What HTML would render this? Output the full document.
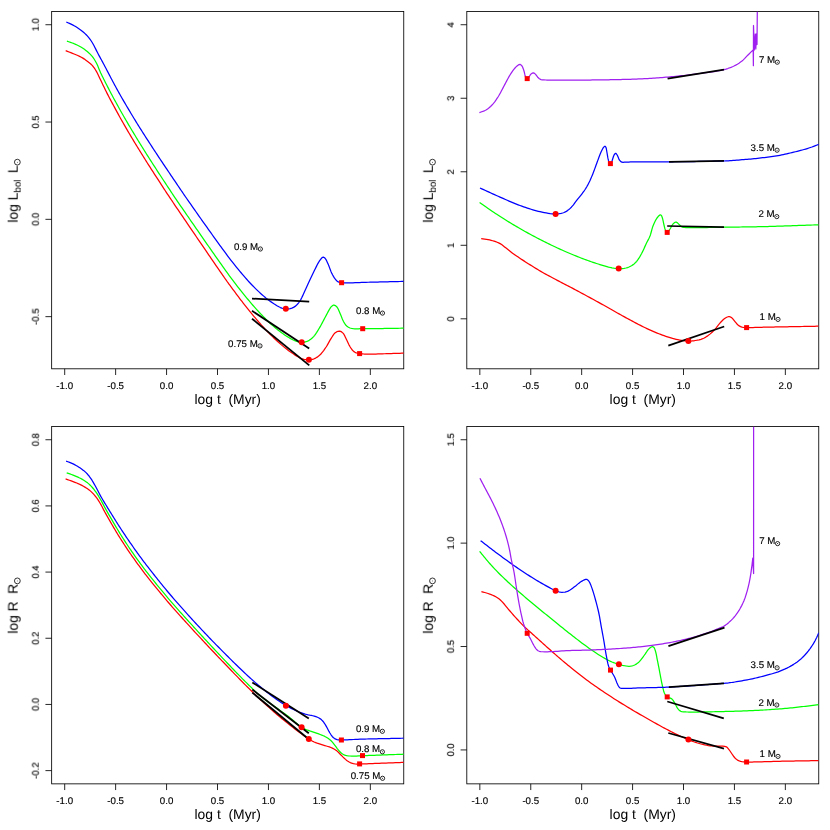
<!DOCTYPE html>
<html><head><meta charset="utf-8"><title>Stellar evolution tracks</title>
<style>html,body{margin:0;padding:0;background:#fff;}body{width:830px;height:830px;overflow:hidden;font-family:"Liberation Sans", sans-serif;}svg{display:block;opacity:0.999;}</style>
</head><body>
<svg width="830" height="830" viewBox="0 0 830 830" font-family='"Liberation Sans", sans-serif' fill="#000" text-rendering="geometricPrecision">
<defs><filter id="gray" x="-5%" y="-20%" width="110%" height="140%" color-interpolation-filters="sRGB"><feColorMatrix type="saturate" values="0"/></filter></defs>
<rect x="51.65" y="11.50" width="352.10" height="357.30" fill="none" stroke="#000" stroke-width="0.85"/>
<line x1="64.69" y1="368.80" x2="64.69" y2="375.00" stroke="#000" stroke-width="0.85"/>
<text filter="url(#gray)" x="64.69" y="388.95" font-size="9.7" text-anchor="middle" stroke="#000" stroke-width="0.15">-1.0</text>
<line x1="115.63" y1="368.80" x2="115.63" y2="375.00" stroke="#000" stroke-width="0.85"/>
<text filter="url(#gray)" x="115.63" y="388.95" font-size="9.7" text-anchor="middle" stroke="#000" stroke-width="0.15">-0.5</text>
<line x1="166.57" y1="368.80" x2="166.57" y2="375.00" stroke="#000" stroke-width="0.85"/>
<text filter="url(#gray)" x="166.57" y="388.95" font-size="9.7" text-anchor="middle" stroke="#000" stroke-width="0.15">0.0</text>
<line x1="217.51" y1="368.80" x2="217.51" y2="375.00" stroke="#000" stroke-width="0.85"/>
<text filter="url(#gray)" x="217.51" y="388.95" font-size="9.7" text-anchor="middle" stroke="#000" stroke-width="0.15">0.5</text>
<line x1="268.45" y1="368.80" x2="268.45" y2="375.00" stroke="#000" stroke-width="0.85"/>
<text filter="url(#gray)" x="268.45" y="388.95" font-size="9.7" text-anchor="middle" stroke="#000" stroke-width="0.15">1.0</text>
<line x1="319.39" y1="368.80" x2="319.39" y2="375.00" stroke="#000" stroke-width="0.85"/>
<text filter="url(#gray)" x="319.39" y="388.95" font-size="9.7" text-anchor="middle" stroke="#000" stroke-width="0.15">1.5</text>
<line x1="370.33" y1="368.80" x2="370.33" y2="375.00" stroke="#000" stroke-width="0.85"/>
<text filter="url(#gray)" x="370.33" y="388.95" font-size="9.7" text-anchor="middle" stroke="#000" stroke-width="0.15">2.0</text>
<line x1="45.45" y1="24.73" x2="51.65" y2="24.73" stroke="#000" stroke-width="0.85"/>
<text filter="url(#gray)" transform="translate(38.75 24.73) rotate(-90)" font-size="9.5" text-anchor="middle" stroke="#000" stroke-width="0.12">1.0</text>
<line x1="45.45" y1="122.04" x2="51.65" y2="122.04" stroke="#000" stroke-width="0.85"/>
<text filter="url(#gray)" transform="translate(38.75 122.04) rotate(-90)" font-size="9.5" text-anchor="middle" stroke="#000" stroke-width="0.12">0.5</text>
<line x1="45.45" y1="219.34" x2="51.65" y2="219.34" stroke="#000" stroke-width="0.85"/>
<text filter="url(#gray)" transform="translate(38.75 219.34) rotate(-90)" font-size="9.5" text-anchor="middle" stroke="#000" stroke-width="0.12">0.0</text>
<line x1="45.45" y1="316.65" x2="51.65" y2="316.65" stroke="#000" stroke-width="0.85"/>
<text filter="url(#gray)" transform="translate(38.75 316.65) rotate(-90)" font-size="9.5" text-anchor="middle" stroke="#000" stroke-width="0.12">-0.5</text>
<text filter="url(#gray)" x="227.70" y="403.70" font-size="13.9" text-anchor="middle" xml:space="preserve">log t  (Myr)</text>
<g transform="translate(17.65 190.15) rotate(-90)"><text filter="url(#gray)" x="-32.60" y="0" font-size="13.9" xml:space="preserve">log L</text><text filter="url(#gray)" x="-2.46" y="2.9" font-size="9.7">bol</text><text filter="url(#gray)" x="17.07" y="0" font-size="13.9">L</text><circle cx="28.00" cy="-0.30" r="2.90" fill="none" stroke="#000" stroke-width="0.80"/><circle cx="28.00" cy="-0.30" r="0.48" fill="#000"/></g>
<clipPath id="c1"><rect x="51.65" y="11.50" width="352.10" height="357.30"/></clipPath>
<g clip-path="url(#c1)">
<path d="M65.70 50.70L67.39 51.36L69.09 52.01L70.79 52.67L72.47 53.33L74.10 54.00L75.97 54.77L77.80 55.53L79.58 56.33L81.30 57.20L82.88 58.12L84.41 59.11L85.88 60.15L87.30 61.20L88.60 62.19L89.86 63.19L91.06 64.24L92.20 65.40L93.34 66.76L94.40 68.21L95.41 69.76L96.40 71.40L97.28 72.99L98.11 74.67L98.93 76.41L99.75 78.19L100.60 79.98L101.38 81.60L102.17 83.25L102.96 84.92L103.77 86.60L104.58 88.28L105.40 89.94L106.20 91.55L106.98 93.10L107.77 94.64L108.59 96.25L109.49 97.98L110.50 99.88L111.21 101.22L111.98 102.65L112.80 104.17L113.66 105.77L114.55 107.42L115.48 109.13L116.43 110.86L117.39 112.63L118.37 114.41L119.35 116.18L120.33 117.95L121.30 119.69L122.26 121.39L123.19 123.05L124.10 124.64L125.11 126.41L126.12 128.15L127.12 129.87L128.12 131.58L129.11 133.27L130.11 134.94L131.10 136.61L132.09 138.26L133.09 139.92L134.09 141.57L135.09 143.23L136.10 144.89L137.10 146.53L138.10 148.16L139.10 149.79L140.11 151.42L141.12 153.04L142.13 154.66L143.14 156.28L144.15 157.89L145.16 159.50L146.17 161.10L147.19 162.71L148.20 164.31L149.20 165.88L150.21 167.46L151.22 169.05L152.24 170.63L153.25 172.21L154.27 173.79L155.28 175.35L156.28 176.90L157.28 178.44L158.27 179.96L159.24 181.46L160.20 182.94L161.28 184.61L162.28 186.15L163.23 187.61L164.16 189.05L165.13 190.52L166.15 192.08L167.28 193.79L168.55 195.71L170.00 197.88L170.69 198.90L171.44 200.02L172.24 201.22L173.11 202.50L174.02 203.85L174.98 205.28L175.99 206.78L177.05 208.33L178.14 209.95L179.28 211.63L180.45 213.36L181.65 215.13L182.89 216.95L184.15 218.81L185.44 220.71L186.75 222.64L188.08 224.60L189.43 226.59L190.80 228.59L192.17 230.62L193.56 232.65L194.95 234.70L196.35 236.75L197.75 238.80L199.15 240.85L200.54 242.90L201.93 244.93L203.31 246.95L204.68 248.95L206.03 250.94L207.37 252.89L208.68 254.82L209.98 256.71L211.25 258.56L212.49 260.38L213.70 262.14L214.88 263.86L216.02 265.53L217.13 267.14L218.19 268.69L219.21 270.17L220.19 271.59L221.11 272.93L221.99 274.19L222.81 275.38L223.57 276.48L224.27 277.50L224.91 278.42L225.49 279.24L226.00 279.97L227.26 281.75L228.14 282.96L228.95 284.06L230.00 285.48L230.85 286.63L231.78 287.90L232.80 289.27L233.87 290.72L235.00 292.24L236.16 293.79L237.34 295.37L238.53 296.95L239.71 298.51L240.87 300.03L242.00 301.49L243.20 303.03L244.40 304.56L245.60 306.09L246.80 307.61L248.01 309.13L249.22 310.64L250.44 312.14L251.66 313.62L252.88 315.10L254.10 316.56L255.29 317.96L256.47 319.36L257.66 320.74L258.86 322.12L260.05 323.48L261.25 324.84L262.45 326.18L263.66 327.51L264.88 328.82L266.10 330.12L267.42 331.51L268.75 332.88L270.08 334.25L271.42 335.60L272.76 336.93L274.11 338.24L275.47 339.53L276.83 340.80L278.20 342.04L279.67 343.34L281.15 344.63L282.64 345.89L284.13 347.13L285.63 348.34L287.14 349.51L288.66 350.65L290.20 351.74L291.70 352.78L293.25 353.83L294.82 354.87L296.40 355.87L297.95 356.80L299.47 357.63L300.93 358.33L302.30 358.87L304.07 359.35L305.74 359.61L307.34 359.71L308.90 359.70L310.68 359.60L312.39 359.33L314.10 358.80L315.62 358.08L317.16 357.15L318.66 356.05L320.10 354.80L321.39 353.47L322.63 351.95L323.83 350.33L324.99 348.66L326.10 347.00L327.15 345.33L328.14 343.60L329.09 341.86L330.04 340.18L331.00 338.60L332.02 336.96L333.03 335.36L334.07 333.93L335.20 332.80L336.56 331.90L338.00 331.28L339.40 331.10L340.66 331.41L341.87 332.12L343.00 333.10L344.01 334.45L344.90 336.14L345.74 338.00L346.60 339.80L347.31 341.25L348.01 342.75L348.71 344.25L349.43 345.68L350.20 347.00L351.32 348.74L352.50 350.31L353.90 351.60L355.05 352.31L356.27 352.84L357.73 353.24L359.60 353.60L360.69 353.75L361.92 353.87L363.29 353.97L364.79 354.03L366.41 354.08L368.14 354.10L369.96 354.10L371.87 354.09L373.85 354.06L375.90 354.02L378.00 353.96L380.15 353.90L382.34 353.83L384.55 353.75L386.77 353.67L388.99 353.60L391.21 353.52L393.41 353.44L395.59 353.38L397.72 353.31L399.81 353.26L401.84 353.23L403.80 353.20" fill="none" stroke="#ff0000" stroke-width="1.25" stroke-linejoin="round" stroke-linecap="butt"/>
<path d="M66.90 41.10L68.70 41.73L70.51 42.34L72.31 42.99L74.10 43.70L75.57 44.34L77.04 45.03L78.50 45.75L79.92 46.51L81.30 47.30L82.88 48.30L84.41 49.35L85.89 50.46L87.30 51.60L88.61 52.72L89.86 53.88L91.06 55.09L92.20 56.40L93.34 57.90L94.40 59.50L95.41 61.20L96.40 63.00L97.14 64.49L97.83 66.08L98.51 67.73L99.19 69.41L99.88 71.08L100.60 72.72L101.37 74.35L102.16 75.97L102.96 77.59L103.77 79.21L104.59 80.82L105.40 82.42L106.20 83.99L107.00 85.55L107.80 87.11L108.60 88.66L109.40 90.20L110.20 91.73L111.09 93.43L111.96 95.06L112.84 96.71L113.77 98.44L114.80 100.33L115.59 101.77L116.42 103.29L117.30 104.88L118.21 106.53L119.15 108.22L120.12 109.95L121.10 111.70L122.10 113.46L123.10 115.22L124.10 116.97L125.04 118.59L126.00 120.24L126.97 121.92L127.96 123.60L128.96 125.31L129.97 127.02L130.99 128.73L132.02 130.45L133.04 132.16L134.06 133.86L135.08 135.55L136.10 137.23L137.10 138.87L138.10 140.50L139.10 142.14L140.11 143.76L141.12 145.39L142.13 147.01L143.14 148.63L144.15 150.24L145.16 151.85L146.17 153.46L147.19 155.06L148.20 156.66L149.20 158.24L150.21 159.82L151.22 161.40L152.23 162.99L153.25 164.57L154.26 166.14L155.28 167.70L156.28 169.25L157.28 170.79L158.26 172.31L159.24 173.81L160.20 175.28L161.34 177.03L162.48 178.77L163.61 180.49L164.73 182.19L165.83 183.86L166.91 185.50L167.97 187.10L169.00 188.66L170.00 190.16L171.08 191.80L172.02 193.23L172.92 194.60L173.90 196.06L175.06 197.78L176.50 199.91L177.12 200.81L177.80 201.81L178.53 202.89L179.33 204.04L180.18 205.28L181.07 206.59L182.02 207.97L183.02 209.41L184.05 210.92L185.13 212.48L186.24 214.10L187.39 215.77L188.58 217.48L189.79 219.24L191.03 221.04L192.30 222.87L193.59 224.73L194.90 226.63L196.23 228.54L197.57 230.48L198.92 232.43L200.29 234.40L201.66 236.37L203.04 238.35L204.41 240.33L205.79 242.31L207.17 244.28L208.53 246.24L209.89 248.19L211.24 250.12L212.58 252.03L213.90 253.91L215.20 255.77L216.48 257.59L217.73 259.37L218.96 261.12L220.16 262.82L221.33 264.47L222.47 266.07L223.56 267.62L224.62 269.10L225.64 270.53L226.61 271.88L227.53 273.17L228.41 274.38L229.23 275.51L230.00 276.56L231.52 278.62L232.90 280.47L234.17 282.16L235.35 283.71L236.47 285.16L237.55 286.54L238.62 287.90L239.70 289.25L240.82 290.65L242.00 292.12L243.19 293.60L244.39 295.09L245.59 296.56L246.80 298.03L248.01 299.49L249.22 300.94L250.43 302.38L251.65 303.81L252.87 305.22L254.10 306.61L255.42 308.09L256.73 309.56L258.05 311.02L259.38 312.46L260.71 313.89L262.04 315.29L263.39 316.68L264.74 318.05L266.10 319.40L267.42 320.67L268.74 321.94L270.07 323.19L271.41 324.43L272.75 325.64L274.10 326.83L275.46 327.99L276.83 329.11L278.20 330.21L279.69 331.35L281.22 332.48L282.77 333.59L284.32 334.66L285.86 335.68L287.36 336.65L288.82 337.54L290.20 338.34L291.78 339.21L293.30 340.01L294.77 340.70L296.17 341.28L297.50 341.73L298.94 342.09L300.28 342.27L301.70 342.30L303.12 342.23L304.62 342.05L306.14 341.72L307.60 341.20L309.17 340.36L310.70 339.29L312.18 338.02L313.60 336.60L314.68 335.33L315.71 333.93L316.71 332.41L317.68 330.83L318.64 329.22L319.60 327.60L320.49 326.08L321.37 324.49L322.23 322.87L323.09 321.24L323.94 319.62L324.78 318.03L325.60 316.50L326.46 314.90L327.32 313.25L328.17 311.64L329.00 310.12L329.78 308.79L330.50 307.70L331.53 306.43L332.50 305.60L333.23 305.21L334.00 305.10L335.33 305.59L336.70 306.70L337.65 308.05L338.53 309.83L339.37 311.79L340.20 313.70L340.87 315.26L341.50 316.89L342.13 318.52L342.78 320.08L343.50 321.50L344.56 323.31L345.69 324.95L347.00 326.30L348.41 327.26L349.98 327.98L351.80 328.50L353.26 328.74L354.83 328.84L356.52 328.84L358.37 328.79L360.42 328.73L362.70 328.70L364.09 328.70L365.59 328.70L367.19 328.69L368.89 328.68L370.67 328.66L372.52 328.64L374.45 328.62L376.44 328.60L378.47 328.57L380.55 328.54L382.67 328.51L384.80 328.48L386.96 328.44L389.13 328.41L391.29 328.38L393.45 328.34L395.58 328.31L397.70 328.28L399.78 328.25L401.81 328.23L403.80 328.20" fill="none" stroke="#00ff00" stroke-width="1.25" stroke-linejoin="round" stroke-linecap="butt"/>
<path d="M66.30 22.00L67.87 22.72L69.45 23.43L71.02 24.14L72.58 24.89L74.10 25.70L75.60 26.58L77.07 27.50L78.52 28.47L79.93 29.47L81.30 30.50L82.58 31.51L83.82 32.55L85.03 33.62L86.19 34.74L87.30 35.90L88.36 37.11L89.35 38.35L90.30 39.64L91.25 41.02L92.20 42.50L93.07 43.96L93.92 45.53L94.78 47.19L95.63 48.90L96.48 50.63L97.34 52.34L98.20 54.00L99.05 55.59L99.91 57.17L100.77 58.74L101.63 60.31L102.49 61.88L103.35 63.46L104.20 65.05L105.06 66.68L105.92 68.32L106.77 69.97L107.63 71.61L108.48 73.26L109.34 74.91L110.20 76.55L111.06 78.18L111.92 79.81L112.79 81.43L113.65 83.05L114.52 84.68L115.41 86.31L116.30 87.95L117.21 89.61L118.11 91.24L119.01 92.86L119.94 94.51L120.90 96.21L121.91 97.99L123.00 99.88L123.86 101.36L124.77 102.91L125.72 104.53L126.70 106.20L127.72 107.92L128.76 109.66L129.81 111.43L130.87 113.20L131.94 114.98L133.00 116.73L134.05 118.47L135.09 120.17L136.10 121.82L137.12 123.46L138.13 125.09L139.14 126.71L140.15 128.32L141.15 129.92L142.16 131.50L143.16 133.08L144.17 134.66L145.17 136.23L146.18 137.80L147.19 139.37L148.20 140.94L149.28 142.62L150.36 144.28L151.44 145.94L152.51 147.58L153.58 149.22L154.66 150.87L155.75 152.52L156.84 154.18L157.95 155.85L159.07 157.54L160.20 159.24L161.25 160.83L162.32 162.43L163.39 164.04L164.48 165.67L165.58 167.31L166.68 168.95L167.79 170.60L168.90 172.25L170.01 173.90L171.11 175.54L172.22 177.18L173.31 178.80L174.40 180.41L175.43 181.94L176.42 183.41L177.39 184.85L178.34 186.26L179.29 187.66L180.24 189.07L181.20 190.50L182.20 191.97L183.24 193.49L184.32 195.07L185.47 196.74L186.69 198.50L188.00 200.37L188.85 201.59L189.75 202.87L190.69 204.22L191.67 205.62L192.69 207.08L193.75 208.59L194.85 210.15L195.97 211.75L197.12 213.39L198.30 215.06L199.50 216.77L200.73 218.51L201.97 220.27L203.23 222.05L204.50 223.84L205.78 225.65L207.07 227.47L208.36 229.30L209.66 231.12L210.96 232.94L212.26 234.76L213.55 236.56L214.83 238.35L216.11 240.12L217.37 241.88L218.61 243.60L219.84 245.30L221.05 246.96L222.24 248.58L223.40 250.17L224.53 251.71L225.64 253.20L226.70 254.63L227.74 256.02L228.73 257.34L229.69 258.59L230.60 259.78L232.06 261.66L233.47 263.46L234.83 265.18L236.16 266.82L237.45 268.40L238.69 269.91L239.90 271.37L241.08 272.76L242.22 274.10L243.34 275.40L244.42 276.65L245.47 277.86L246.50 279.03L247.88 280.59L249.13 281.99L250.32 283.28L251.50 284.53L252.74 285.80L254.10 287.17L255.30 288.35L256.57 289.58L257.90 290.85L259.26 292.14L260.64 293.42L262.04 294.68L263.42 295.90L264.78 297.06L266.10 298.15L267.77 299.45L269.45 300.70L271.11 301.88L272.74 302.98L274.31 304.01L275.80 304.94L277.40 305.92L278.93 306.81L280.39 307.56L281.80 308.13L283.17 308.50L284.47 308.70L285.80 308.80L287.25 308.86L288.72 308.83L290.20 308.60L291.86 308.10L293.52 307.38L295.10 306.40L296.39 305.32L297.61 304.03L298.78 302.58L299.90 301.00L300.77 299.59L301.59 298.04L302.38 296.39L303.15 294.69L303.92 292.98L304.70 291.30L305.51 289.58L306.31 287.83L307.10 286.08L307.89 284.32L308.69 282.55L309.50 280.80L310.32 279.03L311.16 277.26L311.99 275.48L312.83 273.71L313.67 271.98L314.50 270.30L315.41 268.46L316.32 266.62L317.23 264.83L318.12 263.17L319.00 261.70L320.04 260.13L321.06 258.76L322.00 257.80L322.65 257.35L323.30 257.20L324.19 257.53L325.10 258.30L325.87 259.37L326.62 260.80L327.36 262.43L328.10 264.10L328.81 265.80L329.51 267.64L330.22 269.54L330.94 271.39L331.70 273.10L332.56 274.80L333.44 276.42L334.36 277.91L335.30 279.20L336.26 280.29L337.24 281.20L338.30 281.90L339.71 282.43L341.60 282.70L342.68 282.79L343.98 282.85L345.47 282.87L347.14 282.87L348.95 282.85L350.89 282.81L352.94 282.76L355.06 282.69L357.24 282.62L359.45 282.54L361.67 282.46L363.88 282.38L366.05 282.31L368.17 282.25L370.20 282.20L372.11 282.16L374.03 282.12L375.97 282.07L377.92 282.03L379.88 281.98L381.86 281.94L383.84 281.89L385.83 281.84L387.83 281.79L389.83 281.74L391.83 281.69L393.84 281.64L395.84 281.59L397.84 281.54L399.83 281.50L401.82 281.45L403.80 281.40" fill="none" stroke="#0000ff" stroke-width="1.25" stroke-linejoin="round" stroke-linecap="butt"/>
</g>
<line x1="252.00" y1="298.60" x2="309.20" y2="301.60" stroke="#000" stroke-width="1.75"/>
<line x1="252.00" y1="310.80" x2="309.20" y2="348.60" stroke="#000" stroke-width="1.75"/>
<line x1="252.00" y1="318.70" x2="309.30" y2="365.40" stroke="#000" stroke-width="1.75"/>
<circle cx="285.80" cy="308.80" r="3.0" fill="#f00"/>
<circle cx="301.70" cy="342.30" r="3.0" fill="#f00"/>
<circle cx="308.90" cy="359.70" r="3.0" fill="#f00"/>
<rect x="339.10" y="280.20" width="5.0" height="5.0" fill="#f00"/>
<rect x="360.20" y="326.20" width="5.0" height="5.0" fill="#f00"/>
<rect x="357.10" y="351.10" width="5.0" height="5.0" fill="#f00"/>
<text filter="url(#gray)" x="233.90" y="249.60" font-size="9.7" stroke="#000" stroke-width="0.15">0.9 M</text><circle cx="260.38" cy="249.00" r="2.10" fill="none" stroke="#000" stroke-width="0.85"/><circle cx="260.38" cy="249.00" r="0.51" fill="#000"/>
<text filter="url(#gray)" x="356.00" y="313.70" font-size="9.7" stroke="#000" stroke-width="0.15">0.8 M</text><circle cx="382.48" cy="313.10" r="2.10" fill="none" stroke="#000" stroke-width="0.85"/><circle cx="382.48" cy="313.10" r="0.51" fill="#000"/>
<text filter="url(#gray)" x="228.10" y="346.50" font-size="9.7" stroke="#000" stroke-width="0.15">0.75 M</text><circle cx="259.98" cy="345.90" r="2.10" fill="none" stroke="#000" stroke-width="0.85"/><circle cx="259.98" cy="345.90" r="0.51" fill="#000"/>
<rect x="466.80" y="11.50" width="351.95" height="357.30" fill="none" stroke="#000" stroke-width="0.85"/>
<line x1="479.84" y1="368.80" x2="479.84" y2="375.00" stroke="#000" stroke-width="0.85"/>
<text filter="url(#gray)" x="479.84" y="388.95" font-size="9.7" text-anchor="middle" stroke="#000" stroke-width="0.15">-1.0</text>
<line x1="530.75" y1="368.80" x2="530.75" y2="375.00" stroke="#000" stroke-width="0.85"/>
<text filter="url(#gray)" x="530.75" y="388.95" font-size="9.7" text-anchor="middle" stroke="#000" stroke-width="0.15">-0.5</text>
<line x1="581.67" y1="368.80" x2="581.67" y2="375.00" stroke="#000" stroke-width="0.85"/>
<text filter="url(#gray)" x="581.67" y="388.95" font-size="9.7" text-anchor="middle" stroke="#000" stroke-width="0.15">0.0</text>
<line x1="632.59" y1="368.80" x2="632.59" y2="375.00" stroke="#000" stroke-width="0.85"/>
<text filter="url(#gray)" x="632.59" y="388.95" font-size="9.7" text-anchor="middle" stroke="#000" stroke-width="0.15">0.5</text>
<line x1="683.51" y1="368.80" x2="683.51" y2="375.00" stroke="#000" stroke-width="0.85"/>
<text filter="url(#gray)" x="683.51" y="388.95" font-size="9.7" text-anchor="middle" stroke="#000" stroke-width="0.15">1.0</text>
<line x1="734.43" y1="368.80" x2="734.43" y2="375.00" stroke="#000" stroke-width="0.85"/>
<text filter="url(#gray)" x="734.43" y="388.95" font-size="9.7" text-anchor="middle" stroke="#000" stroke-width="0.15">1.5</text>
<line x1="785.35" y1="368.80" x2="785.35" y2="375.00" stroke="#000" stroke-width="0.85"/>
<text filter="url(#gray)" x="785.35" y="388.95" font-size="9.7" text-anchor="middle" stroke="#000" stroke-width="0.15">2.0</text>
<line x1="460.60" y1="24.73" x2="466.80" y2="24.73" stroke="#000" stroke-width="0.85"/>
<text filter="url(#gray)" transform="translate(453.90 24.73) rotate(-90)" font-size="9.5" text-anchor="middle" stroke="#000" stroke-width="0.12">4</text>
<line x1="460.60" y1="98.25" x2="466.80" y2="98.25" stroke="#000" stroke-width="0.85"/>
<text filter="url(#gray)" transform="translate(453.90 98.25) rotate(-90)" font-size="9.5" text-anchor="middle" stroke="#000" stroke-width="0.12">3</text>
<line x1="460.60" y1="171.77" x2="466.80" y2="171.77" stroke="#000" stroke-width="0.85"/>
<text filter="url(#gray)" transform="translate(453.90 171.77) rotate(-90)" font-size="9.5" text-anchor="middle" stroke="#000" stroke-width="0.12">2</text>
<line x1="460.60" y1="245.29" x2="466.80" y2="245.29" stroke="#000" stroke-width="0.85"/>
<text filter="url(#gray)" transform="translate(453.90 245.29) rotate(-90)" font-size="9.5" text-anchor="middle" stroke="#000" stroke-width="0.12">1</text>
<line x1="460.60" y1="318.81" x2="466.80" y2="318.81" stroke="#000" stroke-width="0.85"/>
<text filter="url(#gray)" transform="translate(453.90 318.81) rotate(-90)" font-size="9.5" text-anchor="middle" stroke="#000" stroke-width="0.12">0</text>
<text filter="url(#gray)" x="642.77" y="403.70" font-size="13.9" text-anchor="middle" xml:space="preserve">log t  (Myr)</text>
<g transform="translate(432.80 190.15) rotate(-90)"><text filter="url(#gray)" x="-32.60" y="0" font-size="13.9" xml:space="preserve">log L</text><text filter="url(#gray)" x="-2.46" y="2.9" font-size="9.7">bol</text><text filter="url(#gray)" x="17.07" y="0" font-size="13.9">L</text><circle cx="28.00" cy="-0.30" r="2.90" fill="none" stroke="#000" stroke-width="0.80"/><circle cx="28.00" cy="-0.30" r="0.48" fill="#000"/></g>
<clipPath id="c2"><rect x="466.80" y="11.50" width="351.95" height="357.30"/></clipPath>
<g clip-path="url(#c2)">
<path d="M481.20 238.70L482.94 238.91L484.69 239.10L486.41 239.32L488.10 239.60L489.64 239.93L491.14 240.31L492.62 240.73L494.10 241.20L495.62 241.71L497.13 242.24L498.63 242.86L500.10 243.60L501.63 244.58L503.13 245.71L504.61 246.91L506.10 248.10L507.62 249.30L509.15 250.52L510.67 251.73L512.20 252.90L513.64 253.96L515.06 254.96L516.55 255.98L518.20 257.10L519.50 257.97L520.90 258.90L522.38 259.88L523.93 260.89L525.50 261.91L527.09 262.93L528.66 263.93L530.20 264.90L531.70 265.84L533.21 266.78L534.72 267.71L536.23 268.63L537.75 269.54L539.26 270.45L540.78 271.34L542.30 272.22L543.98 273.18L545.63 274.09L547.27 274.99L548.94 275.89L550.65 276.80L552.42 277.75L554.30 278.75L555.77 279.53L557.29 280.33L558.85 281.14L560.46 281.98L562.10 282.83L563.77 283.69L565.47 284.57L567.18 285.46L568.90 286.36L570.63 287.26L572.37 288.17L574.10 289.09L575.75 289.97L577.42 290.86L579.12 291.77L580.82 292.69L582.54 293.61L584.27 294.55L586.01 295.49L587.76 296.44L589.51 297.39L591.26 298.34L593.00 299.30L594.74 300.25L596.48 301.21L598.20 302.16L599.93 303.12L601.68 304.09L603.44 305.08L605.20 306.07L606.96 307.07L608.72 308.07L610.48 309.07L612.23 310.06L613.96 311.05L615.68 312.02L617.38 312.97L619.05 313.91L620.69 314.82L622.30 315.71L624.02 316.66L625.72 317.59L627.40 318.51L629.07 319.41L630.71 320.30L632.32 321.17L633.91 322.02L635.48 322.85L637.02 323.65L638.52 324.43L640.00 325.18L641.83 326.10L643.58 326.97L645.28 327.80L646.95 328.60L648.62 329.37L650.29 330.13L652.00 330.89L653.72 331.63L655.44 332.36L657.16 333.08L658.89 333.77L660.63 334.45L662.36 335.09L664.10 335.71L665.80 336.30L667.51 336.87L669.22 337.42L670.93 337.94L672.64 338.43L674.37 338.88L676.10 339.29L677.87 339.67L679.69 340.02L681.53 340.34L683.35 340.62L685.12 340.85L686.82 341.01L688.40 341.10L690.28 341.09L692.02 340.98L693.69 340.77L695.40 340.50L697.25 340.18L699.12 339.80L700.95 339.32L702.70 338.70L704.28 337.96L705.79 337.10L707.25 336.14L708.70 335.10L709.95 334.12L711.19 333.05L712.40 331.93L713.58 330.77L714.70 329.60L715.96 328.12L717.14 326.58L718.30 325.05L719.50 323.60L720.70 322.28L721.93 320.98L723.14 319.79L724.30 318.80L725.85 317.71L727.30 317.00L728.26 316.73L729.20 316.70L730.38 316.97L731.60 317.60L732.81 318.77L734.03 320.32L735.20 321.80L736.12 322.94L737.00 324.03L738.00 325.00L739.23 325.88L740.58 326.64L742.00 327.20L743.38 327.48L744.83 327.56L746.60 327.60L747.99 327.62L749.53 327.62L751.21 327.59L753.03 327.54L754.99 327.47L757.07 327.40L759.27 327.33L761.58 327.26L764.00 327.20L765.45 327.17L766.96 327.14L768.55 327.11L770.20 327.08L771.92 327.04L773.69 327.01L775.51 326.98L777.38 326.94L779.30 326.91L781.26 326.87L783.25 326.83L785.27 326.80L787.32 326.76L789.40 326.72L791.49 326.69L793.60 326.65L795.73 326.61L797.85 326.57L799.98 326.53L802.11 326.50L804.24 326.46L806.35 326.42L808.45 326.38L810.53 326.35L812.59 326.31L814.63 326.27L816.63 326.24L818.60 326.20" fill="none" stroke="#ff0000" stroke-width="1.25" stroke-linejoin="round" stroke-linecap="butt"/>
<path d="M479.60 202.48L481.03 203.50L482.49 204.53L483.94 205.57L485.37 206.59L486.77 207.57L488.10 208.50L489.62 209.55L491.03 210.51L492.47 211.48L494.10 212.56L495.40 213.42L496.80 214.34L498.29 215.30L499.83 216.30L501.40 217.31L502.99 218.32L504.56 219.31L506.10 220.27L507.60 221.20L509.11 222.12L510.62 223.04L512.14 223.95L513.65 224.86L515.17 225.76L516.68 226.65L518.20 227.53L519.91 228.52L521.62 229.50L523.33 230.47L525.04 231.43L526.76 232.38L528.48 233.33L530.20 234.27L531.92 235.20L533.65 236.12L535.37 237.04L537.10 237.95L538.84 238.85L540.57 239.74L542.30 240.62L544.04 241.50L545.80 242.38L547.58 243.25L549.34 244.11L551.06 244.95L552.72 245.75L554.30 246.50L555.92 247.27L557.41 247.97L558.87 248.64L560.37 249.32L562.00 250.05L563.58 250.75L565.25 251.48L566.99 252.24L568.77 253.00L570.56 253.77L572.35 254.51L574.10 255.24L575.81 255.93L577.52 256.62L579.23 257.29L580.95 257.96L582.66 258.61L584.38 259.26L586.10 259.89L587.82 260.51L589.55 261.13L591.27 261.73L593.00 262.32L594.74 262.90L596.47 263.47L598.20 264.02L599.93 264.56L601.68 265.10L603.44 265.64L605.19 266.15L606.91 266.63L608.59 267.06L610.20 267.43L612.00 267.79L613.73 268.09L615.41 268.34L617.06 268.51L618.70 268.60L620.56 268.61L622.39 268.53L624.18 268.33L625.90 268.00L627.48 267.55L629.02 266.98L630.50 266.29L631.90 265.50L633.20 264.62L634.41 263.64L635.57 262.54L636.70 261.30L637.75 259.95L638.75 258.46L639.72 256.86L640.67 255.19L641.60 253.50L642.44 251.88L643.27 250.16L644.08 248.39L644.87 246.63L645.64 244.92L646.40 243.30L647.16 241.78L647.91 240.36L648.65 238.96L649.34 237.53L650.00 236.00L650.55 234.42L651.03 232.75L651.49 231.03L651.94 229.30L652.43 227.61L653.00 226.00L653.73 224.25L654.52 222.50L655.35 220.82L656.18 219.29L657.00 218.00L658.32 216.29L659.60 215.20L660.33 214.92L661.00 215.00L661.77 216.16L662.40 218.00L662.84 219.56L663.23 221.38L663.61 223.26L664.00 225.00L664.42 226.81L664.85 228.52L665.40 230.00L666.23 231.57L667.20 232.40L668.09 231.81L669.05 230.45L670.00 229.00L670.98 227.32L671.94 225.51L673.00 224.00L674.47 222.63L676.00 222.00L677.51 222.91L679.00 224.40L680.44 225.81L682.00 227.00L683.11 227.36L684.32 227.50L686.00 227.60L687.02 227.66L688.22 227.70L689.59 227.72L691.10 227.74L692.75 227.74L694.52 227.73L696.39 227.72L698.36 227.69L700.40 227.66L702.51 227.62L704.67 227.58L706.87 227.54L709.08 227.49L711.31 227.44L713.52 227.39L715.72 227.35L717.88 227.30L719.99 227.26L722.03 227.23L724.00 227.20L725.88 227.18L727.74 227.15L729.61 227.13L731.46 227.11L733.32 227.09L735.17 227.07L737.03 227.05L738.88 227.02L740.75 227.00L742.61 226.98L744.49 226.95L746.37 226.93L748.26 226.90L750.17 226.87L752.09 226.84L754.03 226.81L755.98 226.77L757.95 226.73L759.94 226.69L761.96 226.65L764.00 226.60L765.81 226.56L767.64 226.51L769.49 226.46L771.36 226.41L773.24 226.35L775.14 226.29L777.05 226.23L778.98 226.17L780.92 226.11L782.88 226.04L784.84 225.98L786.81 225.91L788.79 225.84L790.77 225.77L792.76 225.70L794.76 225.63L796.75 225.56L798.75 225.49L800.75 225.42L802.75 225.35L804.75 225.28L806.75 225.21L808.74 225.14L810.73 225.07L812.71 225.00L814.68 224.93L816.64 224.87L818.60 224.80" fill="none" stroke="#00ff00" stroke-width="1.25" stroke-linejoin="round" stroke-linecap="butt"/>
<path d="M480.00 187.98L481.82 188.81L483.63 189.64L485.45 190.48L487.27 191.31L489.08 192.15L490.90 192.98L492.72 193.81L494.54 194.64L496.36 195.46L498.18 196.27L500.00 197.07L501.81 197.87L503.62 198.67L505.44 199.47L507.25 200.27L509.06 201.06L510.88 201.84L512.70 202.61L514.52 203.36L516.34 204.10L518.17 204.81L520.00 205.49L521.81 206.14L523.64 206.79L525.49 207.43L527.34 208.05L529.19 208.66L531.03 209.24L532.87 209.80L534.69 210.32L536.49 210.82L538.26 211.27L540.00 211.68L542.07 212.14L544.15 212.58L546.22 212.98L548.26 213.33L550.24 213.63L552.16 213.84L553.98 213.97L555.70 214.00L557.59 213.91L559.38 213.71L561.07 213.40L562.64 213.00L564.10 212.50L565.87 211.65L567.44 210.62L568.90 209.50L570.18 208.38L571.35 207.19L572.50 205.90L573.41 204.78L574.28 203.59L575.16 202.35L576.10 201.10L577.27 199.65L578.51 198.17L579.77 196.65L581.00 195.10L581.99 193.80L582.99 192.47L583.97 191.12L584.91 189.76L585.80 188.40L586.78 186.79L587.68 185.17L588.54 183.52L589.40 181.80L590.15 180.21L590.88 178.56L591.59 176.87L592.30 175.14L593.00 173.40L593.61 171.83L594.22 170.22L594.81 168.60L595.41 166.96L596.00 165.32L596.60 163.70L597.20 162.06L597.81 160.39L598.42 158.72L599.03 157.09L599.62 155.53L600.20 154.10L601.05 152.08L601.88 150.24L602.70 148.70L603.52 147.45L604.30 146.60L604.71 146.34L605.10 146.30L605.58 146.73L606.00 147.50L606.32 148.60L606.55 149.98L606.80 151.50L607.10 153.25L607.41 155.21L607.74 157.17L608.10 158.90L608.45 160.41L608.82 161.77L609.30 162.80L609.89 163.46L610.50 163.70L611.08 163.08L611.60 162.00L612.27 160.24L612.90 158.30L613.45 156.49L614.10 154.90L614.87 153.83L615.70 153.30L616.51 153.99L617.30 155.30L618.00 156.82L618.70 158.59L619.50 160.10L620.59 161.37L621.90 162.20L623.07 162.36L624.40 162.23L626.00 162.10L627.32 162.07L628.80 162.03L630.42 161.99L632.16 161.94L634.01 161.90L635.95 161.86L637.95 161.83L640.00 161.80L641.61 161.79L643.27 161.78L644.98 161.78L646.74 161.78L648.55 161.78L650.41 161.79L652.31 161.79L654.25 161.80L656.24 161.81L658.26 161.82L660.33 161.82L662.44 161.82L664.59 161.82L666.78 161.81L669.00 161.80L670.71 161.79L672.52 161.77L674.43 161.75L676.43 161.74L678.50 161.72L680.63 161.69L682.82 161.67L685.06 161.64L687.33 161.62L689.63 161.59L691.94 161.56L694.26 161.53L696.57 161.50L698.87 161.47L701.15 161.44L703.39 161.40L705.59 161.37L707.73 161.34L709.81 161.30L711.81 161.27L713.74 161.23L715.56 161.20L717.29 161.16L718.90 161.13L720.38 161.10L721.74 161.06L722.94 161.03L724.00 161.00L725.88 160.93L727.25 160.87L728.50 160.80L730.00 160.70L731.50 160.59L733.13 160.46L734.85 160.32L736.64 160.16L738.45 160.01L740.25 159.85L742.00 159.70L743.73 159.56L745.46 159.43L747.19 159.29L748.92 159.16L750.65 159.02L752.37 158.86L754.10 158.70L755.82 158.52L757.53 158.34L759.25 158.14L760.96 157.94L762.67 157.73L764.38 157.52L766.10 157.30L767.83 157.08L769.56 156.86L771.29 156.64L773.02 156.41L774.75 156.16L776.48 155.89L778.20 155.60L779.92 155.28L781.64 154.93L783.35 154.57L785.06 154.19L786.77 153.80L788.49 153.40L790.20 153.00L791.94 152.59L793.70 152.18L795.46 151.76L797.22 151.33L798.95 150.89L800.65 150.45L802.30 150.00L803.99 149.52L805.65 149.03L807.28 148.53L808.87 148.02L810.41 147.51L811.90 147.00L813.71 146.33L815.43 145.66L817.10 144.98L818.80 144.30" fill="none" stroke="#0000ff" stroke-width="1.25" stroke-linejoin="round" stroke-linecap="butt"/>
<path d="M479.40 112.60L481.07 112.00L482.75 111.43L484.41 110.80L486.00 110.00L487.58 108.96L489.10 107.77L490.57 106.44L492.00 105.00L493.06 103.83L494.08 102.58L495.09 101.26L496.08 99.89L497.04 98.46L498.00 97.00L498.90 95.54L499.77 94.01L500.62 92.44L501.47 90.83L502.31 89.21L503.15 87.59L504.00 86.00L504.86 84.40L505.71 82.78L506.57 81.14L507.43 79.52L508.28 77.94L509.14 76.42L510.00 75.00L511.01 73.42L512.04 71.89L513.05 70.46L514.05 69.15L515.00 68.00L516.04 66.87L517.03 65.93L518.00 65.20L519.02 64.60L520.00 64.40L521.04 64.94L522.00 66.00L522.76 67.41L523.41 69.17L524.00 71.00L524.41 72.55L524.75 74.22L525.12 75.78L525.60 77.00L526.36 78.09L527.20 78.60L528.10 78.05L529.00 77.00L529.96 75.46L531.00 74.00L532.17 73.15L533.40 72.80L534.53 73.37L535.60 74.40L536.77 75.98L538.00 77.60L539.39 78.76L541.00 79.60L542.33 79.90L543.83 79.96L546.00 80.00L546.85 80.03L547.82 80.05L548.91 80.07L550.12 80.09L551.43 80.11L552.86 80.12L554.38 80.14L555.99 80.15L557.70 80.15L559.48 80.16L561.34 80.16L563.28 80.16L565.28 80.16L567.34 80.16L569.46 80.15L571.62 80.15L573.83 80.14L576.08 80.13L578.37 80.11L580.68 80.10L583.01 80.08L585.36 80.06L587.72 80.04L590.09 80.02L592.46 79.99L594.82 79.97L597.18 79.94L599.52 79.91L601.83 79.88L604.12 79.85L606.38 79.82L608.60 79.78L610.78 79.74L612.91 79.70L614.99 79.67L617.00 79.62L618.95 79.58L620.83 79.54L622.64 79.49L624.36 79.45L626.00 79.40L628.22 79.33L630.37 79.26L632.47 79.19L634.51 79.12L636.51 79.04L638.47 78.96L640.38 78.88L642.26 78.79L644.12 78.70L645.95 78.61L647.76 78.51L649.55 78.41L651.34 78.30L653.12 78.19L654.91 78.07L656.70 77.95L658.49 77.82L660.31 77.69L662.14 77.55L664.00 77.40L665.93 77.24L667.87 77.08L669.82 76.90L671.78 76.72L673.74 76.54L675.70 76.34L677.66 76.15L679.61 75.94L681.56 75.73L683.49 75.52L685.42 75.31L687.32 75.09L689.21 74.87L691.08 74.64L692.92 74.42L694.74 74.19L696.53 73.96L698.28 73.73L700.00 73.50L702.04 73.23L704.07 72.95L706.10 72.68L708.10 72.41L710.08 72.13L712.02 71.85L713.92 71.56L715.77 71.26L717.57 70.96L719.29 70.64L720.95 70.31L722.52 69.96L724.00 69.60L725.95 69.07L727.74 68.53L729.39 67.96L730.95 67.36L732.48 66.71L734.00 66.00L735.72 65.12L737.38 64.18L738.99 63.17L740.53 62.11L742.00 61.00L743.31 59.87L744.53 58.66L745.70 57.42L746.85 56.19L748.00 55.00L749.32 53.69L750.62 52.42L751.91 51.16L753.20 49.90L753.20 49.90L753.40 65.70L753.50 25.50L754.30 50.00L755.30 34.00L755.80 49.00L756.50 34.00L757.00 44.50L757.30 11.40" fill="none" stroke="#a020f0" stroke-width="1.25" stroke-linejoin="round" stroke-linecap="butt"/>
</g>
<line x1="667.60" y1="78.60" x2="724.00" y2="69.60" stroke="#000" stroke-width="1.75"/>
<line x1="669.00" y1="161.80" x2="724.00" y2="160.80" stroke="#000" stroke-width="1.75"/>
<line x1="667.20" y1="226.00" x2="724.00" y2="227.20" stroke="#000" stroke-width="1.75"/>
<line x1="668.30" y1="345.60" x2="724.20" y2="326.50" stroke="#000" stroke-width="1.75"/>
<circle cx="555.60" cy="214.00" r="3.0" fill="#f00"/>
<circle cx="618.70" cy="268.60" r="3.0" fill="#f00"/>
<circle cx="688.40" cy="341.10" r="3.0" fill="#f00"/>
<rect x="524.70" y="76.10" width="5.0" height="5.0" fill="#f00"/>
<rect x="607.90" y="161.10" width="5.0" height="5.0" fill="#f00"/>
<rect x="664.70" y="229.90" width="5.0" height="5.0" fill="#f00"/>
<rect x="744.10" y="325.10" width="5.0" height="5.0" fill="#f00"/>
<text filter="url(#gray)" x="758.90" y="62.80" font-size="9.7" stroke="#000" stroke-width="0.15">7 M</text><circle cx="777.29" cy="62.20" r="2.10" fill="none" stroke="#000" stroke-width="0.85"/><circle cx="777.29" cy="62.20" r="0.51" fill="#000"/>
<text filter="url(#gray)" x="750.60" y="150.80" font-size="9.7" stroke="#000" stroke-width="0.15">3.5 M</text><circle cx="777.08" cy="150.20" r="2.10" fill="none" stroke="#000" stroke-width="0.85"/><circle cx="777.08" cy="150.20" r="0.51" fill="#000"/>
<text filter="url(#gray)" x="758.40" y="217.20" font-size="9.7" stroke="#000" stroke-width="0.15">2 M</text><circle cx="776.79" cy="216.60" r="2.10" fill="none" stroke="#000" stroke-width="0.85"/><circle cx="776.79" cy="216.60" r="0.51" fill="#000"/>
<text filter="url(#gray)" x="759.60" y="320.00" font-size="9.7" stroke="#000" stroke-width="0.15">1 M</text><circle cx="777.99" cy="319.40" r="2.10" fill="none" stroke="#000" stroke-width="0.85"/><circle cx="777.99" cy="319.40" r="0.51" fill="#000"/>
<rect x="51.65" y="426.50" width="352.10" height="357.35" fill="none" stroke="#000" stroke-width="0.85"/>
<line x1="64.69" y1="783.85" x2="64.69" y2="790.05" stroke="#000" stroke-width="0.85"/>
<text filter="url(#gray)" x="64.69" y="804.00" font-size="9.7" text-anchor="middle" stroke="#000" stroke-width="0.15">-1.0</text>
<line x1="115.63" y1="783.85" x2="115.63" y2="790.05" stroke="#000" stroke-width="0.85"/>
<text filter="url(#gray)" x="115.63" y="804.00" font-size="9.7" text-anchor="middle" stroke="#000" stroke-width="0.15">-0.5</text>
<line x1="166.57" y1="783.85" x2="166.57" y2="790.05" stroke="#000" stroke-width="0.85"/>
<text filter="url(#gray)" x="166.57" y="804.00" font-size="9.7" text-anchor="middle" stroke="#000" stroke-width="0.15">0.0</text>
<line x1="217.51" y1="783.85" x2="217.51" y2="790.05" stroke="#000" stroke-width="0.85"/>
<text filter="url(#gray)" x="217.51" y="804.00" font-size="9.7" text-anchor="middle" stroke="#000" stroke-width="0.15">0.5</text>
<line x1="268.45" y1="783.85" x2="268.45" y2="790.05" stroke="#000" stroke-width="0.85"/>
<text filter="url(#gray)" x="268.45" y="804.00" font-size="9.7" text-anchor="middle" stroke="#000" stroke-width="0.15">1.0</text>
<line x1="319.39" y1="783.85" x2="319.39" y2="790.05" stroke="#000" stroke-width="0.85"/>
<text filter="url(#gray)" x="319.39" y="804.00" font-size="9.7" text-anchor="middle" stroke="#000" stroke-width="0.15">1.5</text>
<line x1="370.33" y1="783.85" x2="370.33" y2="790.05" stroke="#000" stroke-width="0.85"/>
<text filter="url(#gray)" x="370.33" y="804.00" font-size="9.7" text-anchor="middle" stroke="#000" stroke-width="0.15">2.0</text>
<line x1="45.45" y1="439.74" x2="51.65" y2="439.74" stroke="#000" stroke-width="0.85"/>
<text filter="url(#gray)" transform="translate(38.75 439.74) rotate(-90)" font-size="9.5" text-anchor="middle" stroke="#000" stroke-width="0.12">0.8</text>
<line x1="45.45" y1="505.91" x2="51.65" y2="505.91" stroke="#000" stroke-width="0.85"/>
<text filter="url(#gray)" transform="translate(38.75 505.91) rotate(-90)" font-size="9.5" text-anchor="middle" stroke="#000" stroke-width="0.12">0.6</text>
<line x1="45.45" y1="572.09" x2="51.65" y2="572.09" stroke="#000" stroke-width="0.85"/>
<text filter="url(#gray)" transform="translate(38.75 572.09) rotate(-90)" font-size="9.5" text-anchor="middle" stroke="#000" stroke-width="0.12">0.4</text>
<line x1="45.45" y1="638.26" x2="51.65" y2="638.26" stroke="#000" stroke-width="0.85"/>
<text filter="url(#gray)" transform="translate(38.75 638.26) rotate(-90)" font-size="9.5" text-anchor="middle" stroke="#000" stroke-width="0.12">0.2</text>
<line x1="45.45" y1="704.44" x2="51.65" y2="704.44" stroke="#000" stroke-width="0.85"/>
<text filter="url(#gray)" transform="translate(38.75 704.44) rotate(-90)" font-size="9.5" text-anchor="middle" stroke="#000" stroke-width="0.12">0.0</text>
<line x1="45.45" y1="770.61" x2="51.65" y2="770.61" stroke="#000" stroke-width="0.85"/>
<text filter="url(#gray)" transform="translate(38.75 770.61) rotate(-90)" font-size="9.5" text-anchor="middle" stroke="#000" stroke-width="0.12">-0.2</text>
<text filter="url(#gray)" x="227.70" y="818.75" font-size="13.9" text-anchor="middle" xml:space="preserve">log t  (Myr)</text>
<g transform="translate(17.65 605.17) rotate(-90)"><text filter="url(#gray)" x="-28.60" y="0" font-size="13.9" xml:space="preserve">log R</text><text filter="url(#gray)" x="11.24" y="0" font-size="13.9">R</text><circle cx="24.28" cy="-0.30" r="2.90" fill="none" stroke="#000" stroke-width="0.80"/><circle cx="24.28" cy="-0.30" r="0.48" fill="#000"/></g>
<clipPath id="c3"><rect x="51.65" y="426.50" width="352.10" height="357.35"/></clipPath>
<g clip-path="url(#c3)">
<path d="M65.60 478.90L67.48 479.57L69.36 480.23L71.24 480.90L73.10 481.60L74.94 482.31L76.77 483.04L78.56 483.80L80.30 484.60L81.87 485.40L83.40 486.24L84.88 487.10L86.30 488.00L87.56 488.84L88.77 489.70L89.94 490.60L91.10 491.60L92.37 492.83L93.63 494.17L94.85 495.57L96.00 497.00L97.06 498.42L98.05 499.87L99.02 501.39L100.00 503.00L100.79 504.37L101.57 505.81L102.36 507.31L103.15 508.85L103.96 510.40L104.80 511.95L105.74 513.66L106.71 515.40L107.71 517.16L108.71 518.93L109.71 520.68L110.70 522.40L111.65 524.05L112.61 525.69L113.57 527.32L114.52 528.93L115.47 530.52L116.40 532.07L117.40 533.72L118.38 535.31L119.36 536.88L120.35 538.47L121.40 540.12L122.39 541.67L123.38 543.21L124.39 544.78L125.46 546.42L126.62 548.16L127.90 550.05L128.81 551.38L129.78 552.78L130.80 554.25L131.86 555.78L132.96 557.35L134.10 558.97L135.28 560.62L136.48 562.31L137.71 564.01L138.96 565.73L140.23 567.46L141.51 569.19L142.80 570.91L144.10 572.62L145.18 574.03L146.29 575.46L147.42 576.91L148.58 578.38L149.75 579.86L150.94 581.36L152.15 582.86L153.37 584.38L154.60 585.90L155.84 587.42L157.09 588.94L158.34 590.46L159.59 591.97L160.84 593.48L162.09 594.97L163.33 596.46L164.56 597.93L165.79 599.38L167.00 600.81L168.20 602.22L169.51 603.74L170.82 605.27L172.15 606.80L173.49 608.33L174.83 609.85L176.18 611.37L177.51 612.87L178.85 614.36L180.17 615.83L181.48 617.29L182.77 618.72L184.05 620.12L185.30 621.50L186.52 622.85L187.71 624.17L188.88 625.44L190.00 626.68L191.37 628.18L192.68 629.62L193.94 630.99L195.17 632.33L196.37 633.62L197.55 634.90L198.73 636.16L199.91 637.42L201.09 638.69L202.30 639.99L203.60 641.38L204.85 642.73L206.09 644.05L207.32 645.37L208.57 646.70L209.86 648.07L211.19 649.49L212.60 650.98L214.10 652.55L215.24 653.75L216.44 655.01L217.69 656.33L219.00 657.71L220.35 659.12L221.74 660.57L223.15 662.05L224.58 663.54L226.02 665.04L227.46 666.55L228.90 668.05L230.33 669.53L231.74 670.99L233.12 672.42L234.46 673.81L235.76 675.15L237.01 676.43L238.20 677.65L239.74 679.22L241.25 680.76L242.72 682.24L244.16 683.69L245.56 685.09L246.92 686.45L248.24 687.77L249.53 689.05L250.78 690.29L252.00 691.49L253.41 692.88L254.67 694.13L255.87 695.31L257.10 696.50L258.45 697.78L260.00 699.23L261.12 700.27L262.32 701.37L263.58 702.54L264.90 703.76L266.28 705.02L267.71 706.32L269.18 707.65L270.68 709.00L272.21 710.36L273.76 711.73L275.32 713.10L276.90 714.46L278.47 715.81L280.04 717.13L281.60 718.42L283.04 719.59L284.56 720.82L286.14 722.08L287.77 723.37L289.44 724.68L291.13 726.00L292.84 727.32L294.54 728.63L296.23 729.91L297.89 731.17L299.52 732.39L301.10 733.56L302.61 734.67L304.05 735.71L305.40 736.67L306.65 737.55L307.79 738.33L308.80 739.00L310.40 740.01L311.70 740.77L312.90 741.39L314.20 742.00L315.66 742.62L317.16 743.18L318.68 743.70L320.20 744.20L321.72 744.67L323.25 745.11L324.78 745.54L326.30 746.00L327.83 746.48L329.36 746.96L330.87 747.49L332.30 748.10L334.00 749.00L335.61 750.00L337.10 751.10L338.37 752.25L339.53 753.47L340.70 754.70L341.89 755.92L343.08 757.14L344.30 758.30L345.51 759.38L346.74 760.40L348.00 761.30L349.18 762.00L350.38 762.60L351.60 763.10L353.39 763.66L355.20 764.00L356.75 764.07L358.80 764.00L359.76 763.98L360.89 763.95L362.19 763.91L363.64 763.87L365.23 763.82L366.95 763.76L368.79 763.70L370.73 763.63L372.76 763.55L374.87 763.48L377.05 763.40L379.28 763.31L381.55 763.23L383.85 763.14L386.16 763.05L388.48 762.97L390.80 762.88L393.09 762.79L395.35 762.71L397.56 762.63L399.71 762.55L401.80 762.47L403.80 762.40" fill="none" stroke="#ff0000" stroke-width="1.25" stroke-linejoin="round" stroke-linecap="butt"/>
<path d="M66.70 472.90L68.29 473.43L69.88 473.95L71.48 474.50L73.10 475.10L74.90 475.82L76.73 476.61L78.55 477.44L80.30 478.30L81.88 479.14L83.41 480.01L84.89 480.93L86.30 481.90L87.57 482.87L88.78 483.88L89.95 484.95L91.10 486.10L92.37 487.49L93.61 488.99L94.82 490.56L96.00 492.20L97.00 493.67L97.97 495.20L98.92 496.77L99.86 498.38L100.80 500.00L101.61 501.43L102.39 502.88L103.18 504.35L103.96 505.84L104.77 507.35L105.60 508.88L106.42 510.34L107.25 511.83L108.11 513.34L108.98 514.86L109.85 516.39L110.73 517.90L111.60 519.41L112.46 520.90L113.33 522.38L114.20 523.87L115.07 525.34L115.94 526.82L116.82 528.29L117.70 529.75L118.72 531.41L119.73 533.07L120.76 534.71L121.79 536.35L122.83 538.00L123.90 539.66L124.85 541.14L125.79 542.58L126.73 544.03L127.70 545.49L128.70 547.00L129.77 548.57L130.90 550.22L131.83 551.57L132.79 552.95L133.78 554.37L134.80 555.83L135.85 557.32L136.94 558.85L138.05 560.40L139.19 561.98L140.37 563.59L141.58 565.23L142.82 566.89L144.10 568.57L145.13 569.91L146.20 571.29L147.30 572.70L148.43 574.15L149.59 575.62L150.77 577.11L151.98 578.62L153.20 580.15L154.44 581.69L155.70 583.24L156.96 584.79L158.23 586.34L159.50 587.89L160.77 589.43L162.03 590.96L163.29 592.47L164.54 593.97L165.78 595.45L167.00 596.89L168.20 598.31L169.50 599.84L170.81 601.37L172.12 602.88L173.44 604.39L174.76 605.90L176.07 607.39L177.39 608.87L178.70 610.34L180.00 611.80L181.30 613.25L182.59 614.68L183.86 616.09L185.12 617.49L186.37 618.87L187.60 620.23L188.81 621.57L190.00 622.89L191.39 624.43L192.78 625.95L194.15 627.46L195.52 628.95L196.86 630.41L198.19 631.85L199.49 633.26L200.76 634.64L202.00 635.98L203.21 637.29L204.37 638.55L205.50 639.77L206.82 641.20L208.01 642.49L209.13 643.70L210.24 644.89L211.39 646.14L212.66 647.49L214.10 649.03L215.14 650.14L216.27 651.34L217.48 652.63L218.75 653.98L220.07 655.39L221.44 656.85L222.85 658.34L224.29 659.87L225.75 661.41L227.22 662.96L228.69 664.51L230.15 666.05L231.59 667.56L233.00 669.04L234.38 670.48L235.71 671.87L236.99 673.19L238.20 674.43L239.66 675.93L241.11 677.40L242.53 678.84L243.92 680.24L245.29 681.61L246.62 682.93L247.92 684.22L249.18 685.46L250.40 686.65L251.57 687.80L252.70 688.88L254.22 690.37L255.52 691.66L256.80 692.89L258.23 694.19L260.00 695.70L261.13 696.62L262.40 697.61L263.80 698.68L265.31 699.81L266.91 700.98L268.59 702.21L270.32 703.46L272.11 704.74L273.92 706.03L275.74 707.33L277.56 708.63L279.35 709.91L281.11 711.18L282.82 712.41L284.46 713.60L286.01 714.75L287.47 715.84L288.80 716.86L290.48 718.19L292.08 719.52L293.60 720.83L295.05 722.10L296.45 723.31L297.79 724.45L299.09 725.51L300.36 726.46L301.60 727.30L303.36 728.31L305.01 729.10L306.60 729.77L308.20 730.40L309.71 730.96L311.21 731.45L312.70 731.91L314.20 732.40L315.70 732.91L317.20 733.41L318.70 733.94L320.20 734.50L321.75 735.11L323.32 735.74L324.85 736.43L326.30 737.20L328.01 738.29L329.62 739.50L331.10 740.80L332.38 742.16L333.55 743.61L334.70 745.10L335.90 746.71L337.08 748.36L338.30 749.90L339.46 751.22L340.65 752.45L341.90 753.50L343.03 754.24L344.20 754.83L345.50 755.30L346.85 755.63L348.32 755.86L349.90 756.00L351.60 756.10L353.18 756.13L354.79 756.10L356.50 756.02L358.36 755.92L360.41 755.80L362.70 755.70L364.10 755.65L365.60 755.59L367.21 755.54L368.91 755.47L370.69 755.41L372.55 755.34L374.48 755.27L376.46 755.20L378.50 755.12L380.57 755.05L382.69 754.97L384.82 754.89L386.98 754.81L389.14 754.74L391.30 754.66L393.45 754.58L395.59 754.50L397.70 754.42L399.78 754.35L401.81 754.27L403.80 754.20" fill="none" stroke="#00ff00" stroke-width="1.25" stroke-linejoin="round" stroke-linecap="butt"/>
<path d="M66.10 461.10L67.85 461.77L69.61 462.43L71.36 463.12L73.10 463.90L74.57 464.64L76.04 465.45L77.50 466.30L78.92 467.19L80.30 468.10L81.89 469.22L83.43 470.38L84.91 471.60L86.30 472.90L87.59 474.28L88.80 475.74L89.96 477.27L91.10 478.90L92.12 480.46L93.11 482.11L94.08 483.82L95.04 485.56L96.00 487.30L96.80 488.79L97.59 490.29L98.36 491.80L99.15 493.33L99.96 494.86L100.80 496.40L101.75 498.05L102.73 499.72L103.74 501.41L104.76 503.09L105.79 504.76L106.80 506.43L107.79 508.06L108.79 509.68L109.79 511.30L110.79 512.91L111.79 514.52L112.80 516.14L113.81 517.76L114.83 519.38L115.84 521.00L116.86 522.61L117.88 524.22L118.90 525.81L119.92 527.38L120.96 528.98L122.00 530.57L123.01 532.11L123.99 533.59L124.90 534.96L125.81 536.32L126.63 537.53L127.46 538.76L128.40 540.13L129.27 541.40L130.22 542.77L131.22 544.22L132.27 545.72L133.34 547.25L134.42 548.78L135.50 550.29L136.50 551.69L137.47 553.06L138.45 554.41L139.45 555.80L140.49 557.22L141.60 558.72L142.79 560.32L144.10 562.04L145.02 563.24L146.00 564.51L147.02 565.83L148.09 567.22L149.21 568.65L150.36 570.12L151.54 571.63L152.76 573.18L154.00 574.75L155.26 576.34L156.54 577.95L157.84 579.57L159.14 581.20L160.45 582.82L161.76 584.44L163.07 586.04L164.37 587.63L165.67 589.20L166.94 590.73L168.20 592.24L169.47 593.74L170.75 595.25L172.05 596.77L173.37 598.29L174.69 599.82L176.03 601.35L177.37 602.88L178.71 604.41L180.05 605.93L181.39 607.44L182.73 608.94L184.07 610.43L185.39 611.90L186.70 613.36L188.00 614.80L189.28 616.22L190.55 617.61L191.79 618.97L193.01 620.31L194.20 621.62L195.68 623.24L197.21 624.88L198.75 626.54L200.30 628.19L201.83 629.82L203.34 631.42L204.79 632.95L206.19 634.42L207.50 635.80L208.72 637.07L209.82 638.22L210.78 639.23L211.60 640.09L212.83 641.37L214.10 642.68L214.83 643.42L215.72 644.32L216.75 645.37L217.90 646.53L219.16 647.81L220.51 649.17L221.94 650.61L223.43 652.11L224.96 653.66L226.53 655.22L228.10 656.80L229.68 658.37L231.23 659.92L232.76 661.44L234.23 662.89L235.64 664.28L236.97 665.57L238.20 666.77L239.81 668.31L241.39 669.82L242.95 671.28L244.47 672.71L245.96 674.09L247.40 675.43L248.81 676.71L250.16 677.95L251.46 679.12L252.70 680.24L254.27 681.65L255.66 682.89L257.00 684.06L258.41 685.26L260.00 686.59L261.23 687.60L262.56 688.69L263.96 689.82L265.42 690.99L266.91 692.18L268.42 693.37L269.94 694.54L271.43 695.68L272.89 696.77L274.30 697.80L276.01 699.02L277.69 700.20L279.35 701.34L281.00 702.44L282.64 703.49L284.27 704.51L285.90 705.48L287.65 706.47L289.41 707.43L291.17 708.34L292.89 709.19L294.54 709.98L296.10 710.70L297.72 711.41L299.23 712.02L300.70 712.57L302.20 713.10L303.70 713.60L305.19 714.07L306.69 714.50L308.20 714.90L309.71 715.22L311.25 715.48L312.76 715.75L314.20 716.10L315.89 716.63L317.50 717.25L319.00 718.00L320.32 718.86L321.54 719.85L322.70 721.00L323.66 722.19L324.56 723.53L325.44 724.95L326.30 726.40L327.21 728.02L328.09 729.73L328.97 731.42L329.90 733.00L331.04 734.78L332.22 736.45L333.50 737.80L334.64 738.59L335.84 739.17L337.10 739.60L338.35 739.86L339.66 739.96L341.30 740.00L342.59 740.01L344.06 739.98L345.68 739.92L347.44 739.83L349.32 739.73L351.31 739.62L353.39 739.50L355.54 739.39L357.75 739.29L360.00 739.20L361.61 739.15L363.29 739.10L365.04 739.05L366.85 739.00L368.71 738.95L370.62 738.91L372.58 738.86L374.57 738.82L376.61 738.77L378.67 738.73L380.75 738.68L382.86 738.64L384.97 738.60L387.10 738.55L389.23 738.51L391.36 738.47L393.48 738.42L395.59 738.38L397.68 738.33L399.75 738.29L401.79 738.25L403.80 738.20" fill="none" stroke="#0000ff" stroke-width="1.25" stroke-linejoin="round" stroke-linecap="butt"/>
</g>
<line x1="252.30" y1="682.40" x2="308.80" y2="718.60" stroke="#000" stroke-width="1.75"/>
<line x1="252.30" y1="689.50" x2="308.80" y2="733.30" stroke="#000" stroke-width="1.75"/>
<line x1="252.30" y1="692.60" x2="308.80" y2="739.20" stroke="#000" stroke-width="1.75"/>
<circle cx="285.90" cy="705.70" r="3.0" fill="#f00"/>
<circle cx="301.60" cy="727.30" r="3.0" fill="#f00"/>
<circle cx="308.80" cy="739.00" r="3.0" fill="#f00"/>
<rect x="338.90" y="737.50" width="5.0" height="5.0" fill="#f00"/>
<rect x="360.00" y="753.10" width="5.0" height="5.0" fill="#f00"/>
<rect x="357.10" y="761.40" width="5.0" height="5.0" fill="#f00"/>
<text filter="url(#gray)" x="355.90" y="731.90" font-size="9.7" stroke="#000" stroke-width="0.15">0.9 M</text><circle cx="382.38" cy="731.30" r="2.10" fill="none" stroke="#000" stroke-width="0.85"/><circle cx="382.38" cy="731.30" r="0.51" fill="#000"/>
<text filter="url(#gray)" x="355.90" y="752.40" font-size="9.7" stroke="#000" stroke-width="0.15">0.8 M</text><circle cx="382.38" cy="751.80" r="2.10" fill="none" stroke="#000" stroke-width="0.85"/><circle cx="382.38" cy="751.80" r="0.51" fill="#000"/>
<text filter="url(#gray)" x="350.70" y="778.90" font-size="9.7" stroke="#000" stroke-width="0.15">0.75 M</text><circle cx="382.58" cy="778.30" r="2.10" fill="none" stroke="#000" stroke-width="0.85"/><circle cx="382.58" cy="778.30" r="0.51" fill="#000"/>
<rect x="466.80" y="426.50" width="351.95" height="357.35" fill="none" stroke="#000" stroke-width="0.85"/>
<line x1="479.84" y1="783.85" x2="479.84" y2="790.05" stroke="#000" stroke-width="0.85"/>
<text filter="url(#gray)" x="479.84" y="804.00" font-size="9.7" text-anchor="middle" stroke="#000" stroke-width="0.15">-1.0</text>
<line x1="530.75" y1="783.85" x2="530.75" y2="790.05" stroke="#000" stroke-width="0.85"/>
<text filter="url(#gray)" x="530.75" y="804.00" font-size="9.7" text-anchor="middle" stroke="#000" stroke-width="0.15">-0.5</text>
<line x1="581.67" y1="783.85" x2="581.67" y2="790.05" stroke="#000" stroke-width="0.85"/>
<text filter="url(#gray)" x="581.67" y="804.00" font-size="9.7" text-anchor="middle" stroke="#000" stroke-width="0.15">0.0</text>
<line x1="632.59" y1="783.85" x2="632.59" y2="790.05" stroke="#000" stroke-width="0.85"/>
<text filter="url(#gray)" x="632.59" y="804.00" font-size="9.7" text-anchor="middle" stroke="#000" stroke-width="0.15">0.5</text>
<line x1="683.51" y1="783.85" x2="683.51" y2="790.05" stroke="#000" stroke-width="0.85"/>
<text filter="url(#gray)" x="683.51" y="804.00" font-size="9.7" text-anchor="middle" stroke="#000" stroke-width="0.15">1.0</text>
<line x1="734.43" y1="783.85" x2="734.43" y2="790.05" stroke="#000" stroke-width="0.85"/>
<text filter="url(#gray)" x="734.43" y="804.00" font-size="9.7" text-anchor="middle" stroke="#000" stroke-width="0.15">1.5</text>
<line x1="785.35" y1="783.85" x2="785.35" y2="790.05" stroke="#000" stroke-width="0.85"/>
<text filter="url(#gray)" x="785.35" y="804.00" font-size="9.7" text-anchor="middle" stroke="#000" stroke-width="0.15">2.0</text>
<line x1="460.60" y1="439.74" x2="466.80" y2="439.74" stroke="#000" stroke-width="0.85"/>
<text filter="url(#gray)" transform="translate(453.90 439.74) rotate(-90)" font-size="9.5" text-anchor="middle" stroke="#000" stroke-width="0.12">1.5</text>
<line x1="460.60" y1="543.14" x2="466.80" y2="543.14" stroke="#000" stroke-width="0.85"/>
<text filter="url(#gray)" transform="translate(453.90 543.14) rotate(-90)" font-size="9.5" text-anchor="middle" stroke="#000" stroke-width="0.12">1.0</text>
<line x1="460.60" y1="646.53" x2="466.80" y2="646.53" stroke="#000" stroke-width="0.85"/>
<text filter="url(#gray)" transform="translate(453.90 646.53) rotate(-90)" font-size="9.5" text-anchor="middle" stroke="#000" stroke-width="0.12">0.5</text>
<line x1="460.60" y1="749.93" x2="466.80" y2="749.93" stroke="#000" stroke-width="0.85"/>
<text filter="url(#gray)" transform="translate(453.90 749.93) rotate(-90)" font-size="9.5" text-anchor="middle" stroke="#000" stroke-width="0.12">0.0</text>
<text filter="url(#gray)" x="642.77" y="818.75" font-size="13.9" text-anchor="middle" xml:space="preserve">log t  (Myr)</text>
<g transform="translate(432.80 605.17) rotate(-90)"><text filter="url(#gray)" x="-28.60" y="0" font-size="13.9" xml:space="preserve">log R</text><text filter="url(#gray)" x="11.24" y="0" font-size="13.9">R</text><circle cx="24.28" cy="-0.30" r="2.90" fill="none" stroke="#000" stroke-width="0.80"/><circle cx="24.28" cy="-0.30" r="0.48" fill="#000"/></g>
<clipPath id="c4"><rect x="466.80" y="426.50" width="351.95" height="357.35"/></clipPath>
<g clip-path="url(#c4)">
<path d="M481.40 591.60L483.09 592.06L484.78 592.51L486.46 592.98L488.10 593.50L489.65 594.04L491.18 594.62L492.67 595.23L494.10 595.90L495.78 596.78L497.38 597.73L498.90 598.80L500.36 600.03L501.74 601.37L503.10 602.80L504.16 604.01L505.20 605.28L506.23 606.58L507.30 607.90L508.48 609.32L509.69 610.76L510.92 612.22L512.20 613.70L513.35 615.00L514.54 616.33L515.76 617.66L516.98 618.99L518.20 620.30L519.39 621.58L520.58 622.86L521.78 624.12L522.98 625.36L524.20 626.57L525.39 627.69L526.58 628.78L527.79 629.85L528.99 630.92L530.20 631.99L531.42 633.08L532.64 634.17L533.86 635.26L535.08 636.35L536.30 637.44L537.50 638.52L538.70 639.60L539.90 640.68L541.10 641.77L542.30 642.85L543.50 643.93L544.70 645.01L545.90 646.09L547.10 647.16L548.30 648.24L549.47 649.29L550.63 650.32L551.79 651.35L553.00 652.43L554.30 653.57L555.53 654.65L556.79 655.76L558.09 656.90L559.45 658.09L560.89 659.33L562.44 660.64L564.10 662.02L565.31 663.02L566.59 664.07L567.93 665.17L569.34 666.32L570.80 667.51L572.31 668.73L573.85 669.97L575.43 671.22L577.03 672.49L578.64 673.76L580.26 675.03L581.88 676.29L583.49 677.53L585.08 678.74L586.66 679.92L588.20 681.07L589.80 682.23L591.41 683.40L593.04 684.56L594.67 685.71L596.32 686.86L597.96 688.00L599.60 689.13L601.24 690.24L602.88 691.34L604.50 692.43L606.10 693.50L607.69 694.55L609.25 695.58L610.79 696.59L612.30 697.57L614.01 698.68L615.71 699.76L617.39 700.82L619.05 701.86L620.70 702.88L622.32 703.87L623.91 704.84L625.48 705.79L627.02 706.72L628.53 707.63L630.00 708.52L631.83 709.62L633.59 710.67L635.29 711.68L636.97 712.66L638.63 713.63L640.30 714.60L642.00 715.58L643.72 716.58L645.45 717.57L647.18 718.56L648.91 719.55L650.64 720.53L652.37 721.50L654.10 722.47L655.81 723.42L657.52 724.37L659.23 725.31L660.95 726.25L662.66 727.18L664.38 728.10L666.10 729.01L667.83 729.92L669.57 730.83L671.32 731.73L673.07 732.62L674.80 733.49L676.52 734.33L678.20 735.14L679.95 735.97L681.67 736.77L683.37 737.54L685.06 738.29L686.73 739.00L688.40 739.69L690.23 740.42L692.02 741.12L693.81 741.78L695.63 742.40L697.50 742.99L699.25 743.49L701.06 743.98L702.91 744.44L704.75 744.86L706.56 745.23L708.30 745.53L710.06 745.76L711.79 745.91L713.48 746.01L715.12 746.08L716.70 746.14L718.33 746.17L719.91 746.15L721.41 746.14L722.80 746.20L724.73 746.34L726.40 746.80L727.77 748.01L729.00 749.60L730.00 750.99L731.00 752.51L732.00 754.00L732.98 755.40L733.96 756.78L735.00 758.00L736.43 759.34L738.00 760.40L739.25 760.93L740.61 761.31L742.00 761.60L743.34 761.81L744.72 761.93L746.60 762.00L747.72 762.03L749.03 762.04L750.51 762.03L752.14 762.02L753.91 761.99L755.80 761.95L757.80 761.91L759.88 761.86L762.04 761.80L764.26 761.74L766.51 761.67L768.79 761.60L771.07 761.54L773.34 761.47L775.59 761.41L777.80 761.35L779.95 761.29L782.02 761.24L784.00 761.20L785.96 761.16L787.90 761.13L789.84 761.09L791.78 761.06L793.71 761.02L795.63 760.99L797.55 760.95L799.47 760.92L801.38 760.89L803.30 760.86L805.21 760.83L807.12 760.79L809.03 760.76L810.94 760.73L812.85 760.70L814.76 760.67L816.68 760.63L818.60 760.60" fill="none" stroke="#ff0000" stroke-width="1.25" stroke-linejoin="round" stroke-linecap="butt"/>
<path d="M479.60 551.29L480.72 552.68L481.84 554.06L482.96 555.45L484.08 556.84L485.21 558.22L486.35 559.60L487.50 560.95L488.70 562.32L489.94 563.72L491.21 565.12L492.47 566.50L493.69 567.81L494.84 569.05L495.90 570.17L497.31 571.66L498.58 572.95L500.10 574.46L501.16 575.50L502.36 576.65L503.65 577.90L505.03 579.22L506.46 580.57L507.92 581.95L509.38 583.31L510.81 584.64L512.20 585.91L513.69 587.25L515.18 588.58L516.68 589.90L518.18 591.21L519.68 592.51L521.18 593.81L522.69 595.10L524.20 596.39L525.70 597.67L527.21 598.94L528.73 600.21L530.24 601.47L531.76 602.73L533.27 603.99L534.79 605.25L536.30 606.50L537.80 607.74L539.30 608.97L540.80 610.20L542.30 611.43L543.79 612.65L545.29 613.88L546.80 615.10L548.30 616.33L549.82 617.57L551.35 618.81L552.89 620.07L554.43 621.32L555.96 622.56L557.47 623.78L558.95 624.98L560.40 626.14L561.81 627.28L563.15 628.36L564.45 629.41L565.76 630.46L567.10 631.53L568.50 632.64L570.00 633.82L571.31 634.84L572.70 635.92L574.14 637.05L575.63 638.20L577.15 639.38L578.68 640.56L580.22 641.73L581.74 642.89L583.24 644.01L584.70 645.09L586.10 646.12L587.70 647.27L589.28 648.39L590.84 649.49L592.38 650.55L593.89 651.58L595.36 652.56L596.80 653.51L598.20 654.41L599.93 655.49L601.60 656.51L603.22 657.46L604.78 658.35L606.30 659.18L607.77 659.98L609.16 660.70L610.54 661.38L612.00 662.02L613.66 662.66L615.39 663.24L617.14 663.79L618.90 664.30L620.67 664.81L622.47 665.30L624.26 665.71L626.00 666.00L627.54 666.17L629.04 666.27L630.53 666.24L632.00 666.00L633.57 665.50L635.13 664.78L636.65 663.87L638.10 662.80L639.39 661.58L640.63 660.15L641.82 658.59L642.98 657.01L644.10 655.50L645.11 654.10L646.09 652.66L647.05 651.24L647.98 649.96L648.90 648.90L650.44 647.48L651.90 646.70L652.85 646.69L653.70 647.10L654.41 648.12L654.98 649.62L655.50 651.30L655.91 652.79L656.28 654.45L656.62 656.21L656.95 658.02L657.30 659.80L657.68 661.68L658.07 663.60L658.45 665.53L658.83 667.47L659.20 669.40L659.56 671.33L659.92 673.27L660.28 675.20L660.63 677.12L661.00 679.00L661.35 680.76L661.70 682.51L662.05 684.24L662.42 685.91L662.80 687.50L663.20 689.13L663.59 690.70L664.04 692.17L664.60 693.50L665.33 694.79L666.18 695.93L667.20 696.90L668.66 697.62L670.32 698.14L671.80 698.90L672.93 700.11L673.88 701.56L674.80 703.10L675.55 704.47L676.27 705.94L677.00 707.37L677.80 708.60L678.72 709.69L679.70 710.61L680.80 711.30L681.99 711.68L683.31 711.81L685.10 711.90L686.20 711.96L687.48 712.00L688.93 712.03L690.52 712.05L692.25 712.06L694.10 712.06L696.05 712.05L698.09 712.03L700.20 712.00L702.37 711.97L704.58 711.93L706.82 711.89L709.08 711.84L711.33 711.79L713.56 711.75L715.76 711.70L717.91 711.65L720.00 711.60L721.82 711.56L723.67 711.51L725.55 711.47L727.46 711.42L729.38 711.37L731.33 711.31L733.29 711.26L735.26 711.20L737.24 711.14L739.23 711.07L741.22 711.01L743.20 710.94L745.18 710.87L747.16 710.79L749.12 710.71L751.07 710.64L753.00 710.55L754.90 710.47L756.79 710.38L758.64 710.29L760.46 710.20L762.25 710.10L764.00 710.00L766.04 709.88L768.05 709.75L770.03 709.62L771.98 709.49L773.90 709.35L775.81 709.21L777.69 709.07L779.55 708.92L781.40 708.77L783.23 708.61L785.04 708.45L786.85 708.29L788.65 708.12L790.43 707.95L792.22 707.78L794.00 707.60L795.97 707.39L797.92 707.18L799.85 706.96L801.75 706.73L803.64 706.50L805.52 706.27L807.39 706.03L809.25 705.79L811.11 705.55L812.97 705.31L814.84 705.07L816.71 704.83L818.60 704.60" fill="none" stroke="#00ff00" stroke-width="1.25" stroke-linejoin="round" stroke-linecap="butt"/>
<path d="M480.60 540.66L482.11 541.82L483.62 542.98L485.14 544.16L486.66 545.33L488.17 546.49L489.68 547.65L491.17 548.80L492.65 549.92L494.10 551.02L495.56 552.13L497.00 553.20L498.41 554.26L499.81 555.31L501.21 556.34L502.62 557.38L504.05 558.43L505.50 559.48L507.05 560.60L508.62 561.73L510.21 562.87L511.81 564.01L513.42 565.14L515.02 566.26L516.62 567.37L518.20 568.45L519.71 569.48L521.21 570.49L522.71 571.49L524.20 572.48L525.69 573.46L527.19 574.44L528.69 575.40L530.20 576.36L531.72 577.31L533.28 578.27L534.86 579.23L536.43 580.18L537.97 581.11L539.48 582.00L540.93 582.85L542.30 583.64L543.86 584.53L545.33 585.36L546.74 586.13L548.12 586.88L549.50 587.61L551.05 588.46L552.55 589.28L554.06 590.04L555.60 590.70L557.17 591.27L558.78 591.77L560.40 592.14L562.00 592.30L563.54 592.25L565.09 592.02L566.61 591.63L568.10 591.10L569.65 590.31L571.15 589.32L572.63 588.21L574.10 587.10L575.63 585.90L577.16 584.62L578.66 583.38L580.10 582.30L581.57 581.34L582.99 580.52L584.30 579.90L585.55 579.39L586.70 579.30L588.00 580.17L589.20 581.70L590.02 583.15L590.77 584.90L591.48 586.86L592.20 588.90L592.73 590.46L593.26 592.12L593.79 593.85L594.31 595.64L594.82 597.45L595.32 599.24L595.80 601.00L596.26 602.71L596.72 604.41L597.16 606.10L597.59 607.81L598.01 609.52L598.41 611.25L598.80 613.00L599.18 614.86L599.54 616.74L599.88 618.64L600.21 620.55L600.53 622.46L600.86 624.38L601.20 626.30L601.55 628.24L601.91 630.17L602.27 632.11L602.63 634.05L602.99 636.01L603.35 637.99L603.70 640.00L604.03 641.93L604.35 643.92L604.67 645.94L604.99 647.97L605.31 649.98L605.63 651.96L605.96 653.87L606.30 655.70L606.68 657.69L607.06 659.68L607.44 661.61L607.84 663.42L608.26 665.07L608.70 666.50L609.25 667.82L609.82 668.90L610.50 670.10L611.24 671.38L612.10 672.79L613.01 674.28L613.90 675.80L614.70 677.30L615.52 679.18L616.24 681.12L616.95 682.98L617.70 684.60L618.42 685.96L619.16 687.15L620.10 688.00L621.27 688.37L622.63 688.41L624.30 688.40L625.75 688.42L627.41 688.39L629.25 688.34L631.23 688.26L633.33 688.17L635.51 688.07L637.74 687.98L640.00 687.90L641.65 687.85L643.33 687.81L645.06 687.78L646.82 687.74L648.62 687.70L650.45 687.67L652.33 687.63L654.24 687.59L656.20 687.54L658.19 687.49L660.23 687.43L662.31 687.37L664.43 687.29L666.59 687.20L668.80 687.10L670.51 687.01L672.33 686.92L674.24 686.81L676.24 686.70L678.32 686.57L680.46 686.44L682.66 686.30L684.90 686.16L687.18 686.01L689.49 685.85L691.81 685.69L694.14 685.53L696.46 685.37L698.77 685.21L701.05 685.05L703.31 684.88L705.51 684.72L707.67 684.57L709.75 684.41L711.77 684.26L713.70 684.11L715.53 683.97L717.26 683.84L718.88 683.71L720.37 683.60L721.73 683.49L722.94 683.39L724.00 683.30L725.88 683.14L727.25 683.02L728.50 682.89L730.00 682.70L731.50 682.50L733.13 682.26L734.86 682.00L736.64 681.71L738.45 681.41L740.25 681.11L742.00 680.80L743.73 680.49L745.46 680.17L747.19 679.84L748.92 679.50L750.65 679.14L752.38 678.78L754.10 678.40L755.82 678.01L757.54 677.60L759.25 677.19L760.96 676.76L762.68 676.32L764.39 675.86L766.10 675.40L767.83 674.93L769.57 674.46L771.31 673.98L773.04 673.49L774.77 672.97L776.49 672.41L778.20 671.80L779.95 671.13L781.71 670.43L783.46 669.69L785.20 668.92L786.91 668.11L788.58 667.27L790.20 666.40L791.93 665.40L793.63 664.35L795.28 663.27L796.88 662.15L798.42 660.99L799.90 659.80L801.22 658.66L802.48 657.49L803.69 656.29L804.86 655.05L805.99 653.79L807.10 652.50L808.19 651.15L809.26 649.75L810.30 648.32L811.29 646.89L812.23 645.47L813.10 644.10L814.13 642.39L815.06 640.71L815.92 639.07L816.70 637.50L817.46 635.85L818.13 634.28L818.80 632.70" fill="none" stroke="#0000ff" stroke-width="1.25" stroke-linejoin="round" stroke-linecap="butt"/>
<path d="M479.90 478.20L480.73 479.78L481.55 481.37L482.38 482.95L483.21 484.53L484.03 486.12L484.87 487.71L485.70 489.30L486.55 490.91L487.41 492.52L488.28 494.14L489.14 495.75L490.00 497.38L490.85 499.03L491.70 500.70L492.47 502.25L493.24 503.82L494.01 505.41L494.78 507.01L495.54 508.62L496.28 510.22L497.00 511.82L497.70 513.40L498.44 515.13L499.17 516.85L499.88 518.58L500.56 520.30L501.23 522.01L501.88 523.71L502.50 525.40L503.16 527.23L503.79 529.04L504.39 530.84L504.98 532.63L505.55 534.45L506.10 536.30L506.58 537.98L507.06 539.68L507.52 541.40L507.97 543.13L508.40 544.86L508.81 546.58L509.20 548.30L509.61 550.25L509.98 552.20L510.33 554.15L510.67 556.09L511.02 558.04L511.40 560.00L511.76 561.69L512.13 563.37L512.51 565.05L512.90 566.73L513.28 568.44L513.65 570.20L514.00 572.00L514.33 573.86L514.64 575.79L514.94 577.76L515.23 579.75L515.52 581.76L515.81 583.77L516.10 585.75L516.40 587.70L516.69 589.55L516.99 591.40L517.28 593.24L517.58 595.08L517.88 596.89L518.18 598.69L518.49 600.46L518.80 602.20L519.13 603.99L519.46 605.75L519.80 607.49L520.14 609.21L520.49 610.90L520.84 612.57L521.20 614.20L521.65 616.21L522.09 618.17L522.54 620.10L523.04 622.00L523.60 623.90L524.13 625.52L524.70 627.18L525.30 628.82L525.93 630.42L526.56 631.92L527.20 633.30L528.18 635.07L529.18 636.63L530.20 638.30L530.93 639.68L531.67 641.18L532.41 642.70L533.16 644.17L533.90 645.50L534.89 647.13L535.88 648.61L536.90 649.80L538.01 650.70L539.30 651.30L540.77 651.63L542.52 651.75L544.70 651.80L546.04 651.81L547.60 651.78L549.33 651.72L551.21 651.63L553.21 651.52L555.30 651.40L557.45 651.27L559.64 651.13L561.82 650.99L563.98 650.86L566.08 650.74L568.10 650.64L570.00 650.56L571.89 650.49L573.72 650.43L575.51 650.39L577.28 650.35L579.02 650.31L580.77 650.27L582.53 650.24L584.32 650.19L586.15 650.15L588.04 650.09L590.00 650.02L591.72 649.95L593.50 649.88L595.34 649.80L597.22 649.72L599.13 649.63L601.07 649.55L603.03 649.45L605.00 649.36L606.97 649.26L608.93 649.16L610.87 649.05L612.79 648.95L614.67 648.84L616.50 648.73L618.28 648.62L620.00 648.50L621.99 648.36L623.95 648.22L625.89 648.07L627.79 647.92L629.66 647.76L631.49 647.60L633.28 647.44L635.03 647.28L636.73 647.12L638.39 646.95L640.00 646.79L642.14 646.57L644.13 646.36L646.03 646.14L647.91 645.91L649.85 645.67L651.90 645.40L653.61 645.16L655.40 644.91L657.24 644.64L659.11 644.36L660.99 644.07L662.86 643.78L664.70 643.48L666.49 643.18L668.20 642.89L670.01 642.56L671.77 642.24L673.48 641.91L675.16 641.57L676.83 641.23L678.50 640.87L680.20 640.50L681.93 640.11L683.66 639.71L685.39 639.30L687.12 638.88L688.85 638.45L690.58 638.00L692.30 637.54L694.05 637.05L695.82 636.55L697.59 636.03L699.35 635.50L701.07 634.97L702.73 634.45L704.30 633.95L705.95 633.41L707.50 632.89L709.00 632.36L710.48 631.83L712.00 631.26L713.64 630.61L715.32 629.91L716.99 629.20L718.57 628.52L720.00 627.90L721.45 627.32L722.75 626.80L724.10 626.10L725.56 625.12L727.08 623.95L728.61 622.65L730.10 621.30L731.35 620.09L732.59 618.82L733.81 617.49L734.98 616.11L736.10 614.70L737.18 613.22L738.20 611.68L739.19 610.10L740.12 608.50L741.00 606.90L741.81 605.36L742.56 603.81L743.27 602.25L743.95 600.65L744.60 599.00L745.16 597.47L745.69 595.91L746.20 594.31L746.69 592.69L747.15 591.05L747.60 589.40L748.05 587.65L748.48 585.88L748.89 584.09L749.28 582.28L749.65 580.45L750.00 578.60L750.30 576.89L750.59 575.13L750.86 573.35L751.11 571.57L751.35 569.82L751.58 568.12L751.80 566.50L752.03 564.72L752.23 563.03L752.42 561.39L752.61 559.76L752.80 558.10L752.80 558.10L753.60 573.50L753.60 426.40" fill="none" stroke="#a020f0" stroke-width="1.25" stroke-linejoin="round" stroke-linecap="butt"/>
</g>
<line x1="668.40" y1="646.10" x2="724.50" y2="627.60" stroke="#000" stroke-width="1.75"/>
<line x1="668.80" y1="687.10" x2="724.00" y2="683.30" stroke="#000" stroke-width="1.75"/>
<line x1="667.30" y1="701.50" x2="723.80" y2="718.30" stroke="#000" stroke-width="1.75"/>
<line x1="668.30" y1="733.00" x2="724.00" y2="748.70" stroke="#000" stroke-width="1.75"/>
<circle cx="555.60" cy="590.70" r="3.0" fill="#f00"/>
<circle cx="618.90" cy="664.20" r="3.0" fill="#f00"/>
<circle cx="688.40" cy="739.60" r="3.0" fill="#f00"/>
<rect x="524.70" y="630.80" width="5.0" height="5.0" fill="#f00"/>
<rect x="608.00" y="667.60" width="5.0" height="5.0" fill="#f00"/>
<rect x="664.70" y="694.40" width="5.0" height="5.0" fill="#f00"/>
<rect x="744.10" y="759.50" width="5.0" height="5.0" fill="#f00"/>
<text filter="url(#gray)" x="759.20" y="544.20" font-size="9.7" stroke="#000" stroke-width="0.15">7 M</text><circle cx="777.59" cy="543.60" r="2.10" fill="none" stroke="#000" stroke-width="0.85"/><circle cx="777.59" cy="543.60" r="0.51" fill="#000"/>
<text filter="url(#gray)" x="750.60" y="668.40" font-size="9.7" stroke="#000" stroke-width="0.15">3.5 M</text><circle cx="777.08" cy="667.80" r="2.10" fill="none" stroke="#000" stroke-width="0.85"/><circle cx="777.08" cy="667.80" r="0.51" fill="#000"/>
<text filter="url(#gray)" x="758.40" y="705.60" font-size="9.7" stroke="#000" stroke-width="0.15">2 M</text><circle cx="776.79" cy="705.00" r="2.10" fill="none" stroke="#000" stroke-width="0.85"/><circle cx="776.79" cy="705.00" r="0.51" fill="#000"/>
<text filter="url(#gray)" x="759.60" y="757.00" font-size="9.7" stroke="#000" stroke-width="0.15">1 M</text><circle cx="777.99" cy="756.40" r="2.10" fill="none" stroke="#000" stroke-width="0.85"/><circle cx="777.99" cy="756.40" r="0.51" fill="#000"/>
</svg>
</body></html>
